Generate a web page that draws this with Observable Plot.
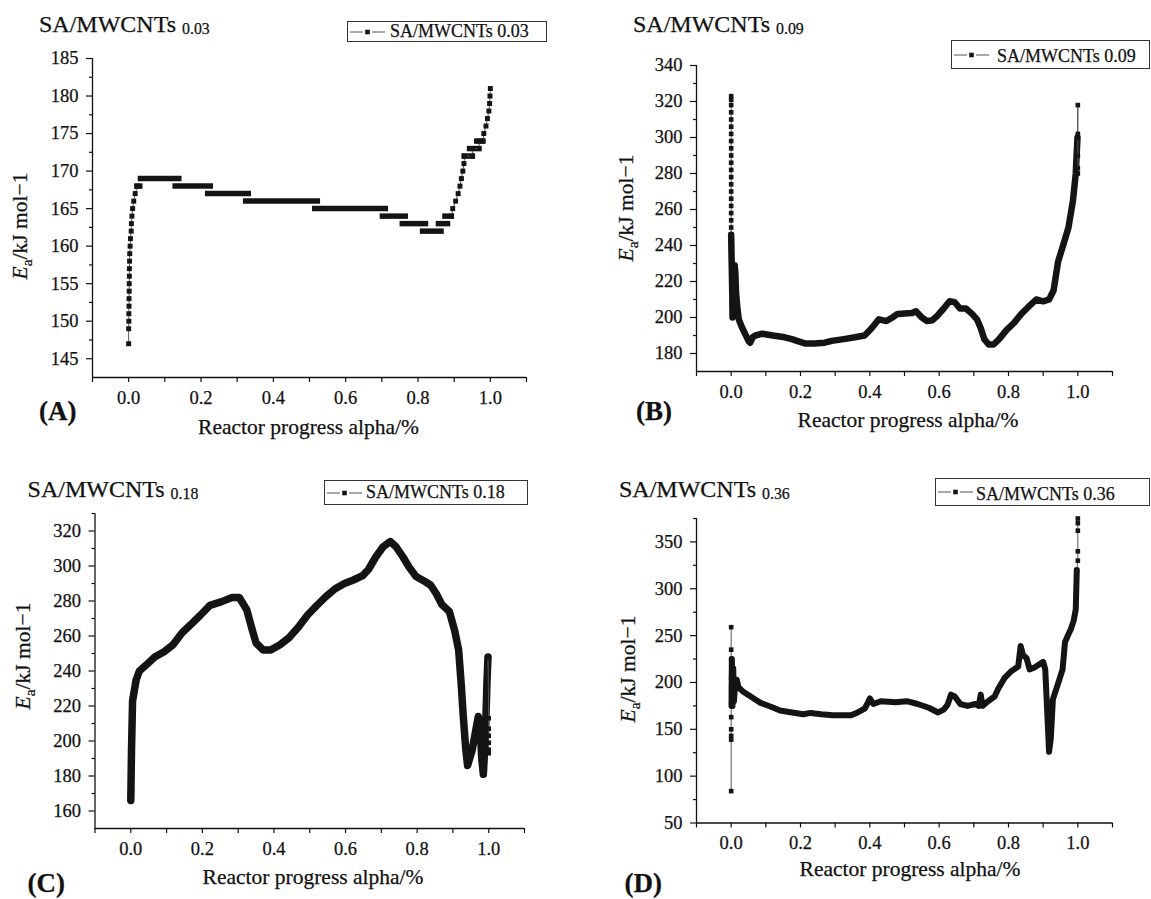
<!DOCTYPE html>
<html><head><meta charset="utf-8">
<script src="https://cdn.jsdelivr.net/npm/d3@7"></script>
<script src="https://cdn.jsdelivr.net/npm/@observablehq/plot@0.6"></script>
<style>
body{margin:0;background:#fff;}
#fig{position:relative;width:1151px;height:899px;overflow:hidden;color:#111;background:#fff;}
.abs{position:absolute;white-space:nowrap;line-height:1;-webkit-text-stroke:0.25px #111;}
.panel{position:absolute;}
.panel svg text{stroke:#111;stroke-width:0.25px;}
.legend{position:absolute;border:1px solid #333;background:#fff;box-sizing:border-box;}
</style></head><body><div id="fig"></div>
<script>
// ---------- shared tick values ----------
const xMajor = [0, 0.2, 0.4, 0.6, 0.8, 1.0];
const xMinor = [-0.1, 0.1, 0.3, 0.5, 0.7, 0.9, 1.1];

// ---------- Panel A : SA/MWCNTs 0.03 ----------
const aYMajor = [145, 150, 155, 160, 165, 170, 175, 180, 185];
const aYMinor = [147.5, 152.5, 157.5, 162.5, 167.5, 172.5, 177.5, 182.5];
const aRise = [[0,147],[0,149],[0.0005,150],[0.0005,151],[0.001,152],[0.001,153],[0.0015,154],[0.0015,155],[0.002,156],[0.002,157],[0.0025,158],[0.003,159],[0.004,160],[0.005,161],[0.007,162],[0.0075,163],[0.009,164],[0.011,165],[0.014,166],[0.018,167],[0.024,168]];
const aSteps = [[168,0.024,0.032],[169,0.034,0.14],[168,0.13,0.227],[167,0.22,0.332],[166,0.325,0.523],[165,0.516,0.711],[164,0.703,0.766],[163,0.758,0.822],[162,0.814,0.865],[163,0.858,0.883],[164,0.876,0.893],[172,0.929,0.951],[173,0.944,0.969],[174,0.964,0.98]];
const aTail = [[0.893,164],[0.896,165],[0.904,166],[0.911,167],[0.916,168],[0.92,169],[0.924,170],[0.927,171],[0.929,172],[0.951,172],[0.951,173],[0.969,173],[0.969,174],[0.98,174],[0.982,175],[0.988,176],[0.992,177],[0.996,178],[0.998,179],[0.999,180],[1.0,181]];

// ---------- Panel B : SA/MWCNTs 0.09 ----------
const bYMajor = [180, 200, 220, 240, 260, 280, 300, 320, 340];
const bYMinor = [190, 210, 230, 250, 270, 290, 310, 330];
const bStart = [[0,323],[0,321],[0,318],[0,314],[0,310],[0,306],[0,302],[0,298],[0,294],[0,290],[0,286],[0,282],[0,278],[0,274],[0,270],[0,266],[0,262],[0,258],[0,254],[0,250],[0,246]];
const bMain = [[0,246],[0.001,235],[0.003,215],[0.004,200],[0.006,213],[0.01,229],[0.012,225],[0.014,214],[0.018,205],[0.022,199],[0.03,195],[0.04,191],[0.05,187],[0.055,186],[0.062,189],[0.07,190],[0.09,191],[0.12,190],[0.155,189],[0.175,188],[0.19,187],[0.215,185.5],[0.24,185.5],[0.27,186],[0.29,187],[0.325,188],[0.357,189],[0.385,190],[0.405,194],[0.426,199],[0.448,198],[0.465,200],[0.48,202],[0.522,202.5],[0.533,203.5],[0.55,200],[0.565,198],[0.58,198.5],[0.595,201],[0.613,205],[0.63,209],[0.645,208.5],[0.66,205],[0.677,205],[0.695,202],[0.709,199],[0.72,194],[0.73,188],[0.743,185],[0.757,185],[0.773,188],[0.794,193],[0.816,197],[0.837,202],[0.858,206],[0.88,210],[0.9,209],[0.917,210],[0.93,215],[0.943,231],[0.959,241],[0.973,250],[0.986,265],[0.994,280],[0.999,300]];
const bEnd = [[0.999,300],[1.0,318],[1.0,302],[1.0,290],[1.0,283],[1.0,280]];

// ---------- Panel C : SA/MWCNTs 0.18 ----------
const cYMajor = [160, 180, 200, 220, 240, 260, 280, 300, 320];
const cYMinor = [170, 190, 210, 230, 250, 270, 290, 310, 330];
const cMain = [[0,166],[0.002,195],[0.005,223],[0.015,235],[0.024,240],[0.046,244],[0.067,248],[0.093,251],[0.118,255],[0.144,262],[0.17,267],[0.195,272],[0.221,277.5],[0.252,279.5],[0.283,282],[0.303,282],[0.324,275],[0.34,263],[0.35,256],[0.37,252],[0.391,252],[0.417,255],[0.442,259],[0.468,265],[0.494,272],[0.52,277.5],[0.545,282.5],[0.571,287],[0.597,290],[0.622,292],[0.648,294.5],[0.664,298],[0.684,305],[0.705,311],[0.725,314],[0.741,311],[0.761,305],[0.777,299.5],[0.797,294],[0.823,291],[0.838,289],[0.854,284],[0.869,278],[0.89,274],[0.905,263],[0.916,252],[0.923,233],[0.929,214],[0.936,195],[0.941,186],[0.954,195],[0.962,204],[0.971,214],[0.976,208],[0.981,189],[0.985,181],[0.991,204],[0.995,233],[0.998,248]];
const cEnd = [[0.998,248],[1.0,213],[1.0,207],[1.0,203],[1.0,199],[1.0,195],[1.0,193]];

// ---------- Panel D : SA/MWCNTs 0.36 ----------
const dYMajor = [50, 100, 150, 200, 250, 300, 350];
const dYMinor = [75, 125, 175, 225, 275, 325, 375];
const dStart = [[0,259],[0,235],[0,225],[0,205],[0,195],[0,163],[0,150],[0,143],[0,139],[0,84]];
const dMain = [[0.001,175],[0.002,225],[0.004,175],[0.006,215],[0.008,180],[0.012,200],[0.016,203],[0.021,195],[0.035,190],[0.054,185.5],[0.083,178.5],[0.122,173],[0.141,170],[0.176,168],[0.208,166],[0.229,167.5],[0.26,166],[0.293,165],[0.346,165],[0.365,168],[0.385,172],[0.394,178],[0.4,183],[0.41,177],[0.432,180],[0.474,179],[0.506,180],[0.538,177],[0.57,173],[0.597,168],[0.613,171],[0.624,176],[0.634,187],[0.645,185],[0.661,177],[0.682,175],[0.704,177],[0.714,175],[0.72,187],[0.725,175],[0.741,180],[0.76,185],[0.77,193],[0.789,205],[0.808,212],[0.828,217],[0.835,239],[0.842,229],[0.852,226],[0.861,214],[0.875,216],[0.9,222],[0.906,214],[0.917,126],[0.922,140],[0.928,182],[0.944,200],[0.956,214],[0.963,243],[0.97,249],[0.98,257],[0.988,266],[0.994,278],[0.997,320]];
const dEnd = [[0.997,320],[1.0,330],[1.0,340],[1.0,362],[1.0,370],[1.0,375]];

const titles = ["0.03", "0.09", "0.18", "0.36"];
const letters = ["(A)", "(B)", "(C)", "(D)"];
const xLabel = "Reactor progress alpha/%";

// ---------- pick an installed serif font and a size factor ----------
function pickFont() {
  const cands = ["Liberation Serif", "Tinos", "Times New Roman", "Nimbus Roman", "FreeSerif", "DejaVu Serif", "Noto Serif"];
  const c = document.createElement("canvas").getContext("2d");
  const s = "SA/MWCNTs Reactor progress alpha/% 0123456789";
  const w = f => { c.font = "50px " + f; return c.measureText(s).width; };
  const m = w("monospace"), sa = w("sans-serif");
  for (const f of cands) {
    const q = '"' + f + '"';
    if (w(q + ",monospace") !== m && w(q + ",sans-serif") !== sa) return f;
  }
  return null;
}
const chosen = pickFont();
const FONT = (chosen ? '"' + chosen + '",' : "") + '"Liberation Serif",serif';
let SF = 1;
{
  const c = document.createElement("canvas").getContext("2d");
  c.font = "100px " + FONT;
  const wRef = c.measureText(xLabel).width;  // Times-metric width = 1027.5
  SF = Math.max(0.8, Math.min(1.1, 1027.5 / wRef));
}
const fs = v => +(v * SF).toFixed(2);
document.getElementById("fig").style.fontFamily = FONT;

const INK = "#141414";
const fig = document.getElementById("fig");
const X = d => d[0], Y = d => d[1];

function thick(data, w) {
  return Plot.line(data, {x: X, y: Y, stroke: INK, strokeWidth: w, strokeLinejoin: "round", strokeLinecap: "round"});
}
function sparse(data, r = 2.6) {
  return [
    Plot.line(data, {x: X, y: Y, stroke: "#555", strokeWidth: 1}),
    Plot.dot(data, {x: X, y: Y, symbol: "square", r: r, fill: INK, stroke: "none"})
  ];
}

function panel(cfg) {
  const svg = Plot.plot({
    width: cfg.w, height: cfg.h,
    marginLeft: cfg.mL, marginRight: cfg.mR, marginTop: cfg.mT, marginBottom: cfg.mB,
    x: {domain: [-0.1, 1.1], axis: null},
    y: {domain: cfg.yDomain, axis: null},
    style: {fontFamily: FONT, fontSize: fs(18) + "px", color: "#111", background: "transparent", overflow: "visible"},
    marks: [
      Plot.axisY({ticks: cfg.yMinor, tickSize: 3, tickFormat: () => "", label: null, strokeWidth: 1.2}),
      Plot.axisY({ticks: cfg.yMajor, tickSize: 6, tickPadding: 8, fontSize: fs(18.5), label: null, strokeWidth: 1.2, tickFormat: d => String(d)}),
      Plot.axisX({ticks: xMinor, tickSize: 5, tickFormat: () => "", label: null, strokeWidth: 1.2}),
      Plot.axisX({ticks: xMajor, tickSize: 5, tickPadding: 8, fontSize: fs(18.5), label: null, strokeWidth: 1.2, tickFormat: d => d.toFixed(1)}),
      Plot.ruleX([-0.1], {strokeWidth: 1.3, stroke: "#111"}),
      Plot.ruleY([cfg.yDomain[0]], {strokeWidth: 1.3, stroke: "#111"}),
      ...cfg.marks
    ]
  });
  const div = document.createElement("div");
  div.className = "panel";
  div.style.left = cfg.left + "px"; div.style.top = cfg.top + "px";
  div.style.width = cfg.w + "px"; div.style.height = cfg.h + "px";
  div.appendChild(svg);
  fig.appendChild(div);
}

function text(html, x, base, size, extra = {}) {
  const d = document.createElement("div");
  d.className = "abs";
  d.innerHTML = html;
  const z = fs(size);
  d.style.fontSize = z + "px";
  d.style.left = x + "px";
  d.style.top = (base - 0.8375 * z) + "px";
  if (extra.bold) d.style.fontWeight = "bold";
  if (extra.center) d.style.transform = "translateX(-50%)";
  fig.appendChild(d);
}
function ylabel(cx, cy) {
  const d = document.createElement("div");
  d.className = "abs";
  d.innerHTML = '<i>E</i><span style="font-size:0.72em;position:relative;top:0.3em">a</span>/kJ mol\u22121';
  d.style.fontSize = fs(21.5) + "px";
  d.style.left = cx + "px"; d.style.top = cy + "px";
  d.style.transform = "translate(-50%,-50%) rotate(-90deg)";
  fig.appendChild(d);
}
function legend(x0, y0, x1, y1, txtX, base, label) {
  const box = document.createElement("div");
  box.className = "legend";
  box.style.left = x0 + "px"; box.style.top = y0 + "px";
  box.style.width = (x1 - x0) + "px"; box.style.height = (y1 - y0) + "px";
  fig.appendChild(box);
  const cy = (y0 + y1) / 2;
  const s = document.createElementNS("http://www.w3.org/2000/svg", "svg");
  s.setAttribute("width", 40); s.setAttribute("height", 10);
  s.style.position = "absolute"; s.style.left = (x0 + 3) + "px"; s.style.top = (cy - 5) + "px";
  s.innerHTML = '<line x1="0" y1="5" x2="13" y2="5" stroke="#555" stroke-width="1"/><line x1="22" y1="5" x2="35" y2="5" stroke="#555" stroke-width="1"/><rect x="15.2" y="2.7" width="4.6" height="4.6" fill="#141414"/>';
  fig.appendChild(s);
  text(label, txtX, base, 18);
}

// ----- draw panels -----
panel({left: 0, top: 0, w: 575, h: 450, mL: 92, mR: 49, mT: 58, mB: 73, yDomain: [142.5, 185], yMajor: aYMajor, yMinor: aYMinor,
  marks: [
    Plot.ruleY(aSteps, {y: d => d[0], x1: d => d[1], x2: d => d[2], stroke: INK, strokeWidth: 5.5, strokeLinecap: "square"}),
    ...sparse(aRise, 2.8), ...sparse(aTail, 2.8)
  ]});
panel({left: 575, top: 0, w: 576, h: 450, mL: 121, mR: 39, mT: 65, mB: 79, yDomain: [170, 340], yMajor: bYMajor, yMinor: bYMinor,
  marks: [...sparse(bStart), thick(bMain, 6.5), ...sparse(bEnd)]});
panel({left: 0, top: 450, w: 575, h: 449, mL: 94.5, mR: 51, mT: 63, mB: 71, yDomain: [150, 330], yMajor: cYMajor, yMinor: cYMinor,
  marks: [thick(cMain, 7.5), ...sparse(cEnd)]});
panel({left: 575, top: 450, w: 576, h: 449, mL: 121, mR: 39, mT: 68, mB: 76.5, yDomain: [50, 375], yMajor: dYMajor, yMinor: dYMinor,
  marks: [...sparse(dStart), thick(dMain, 6), ...sparse(dEnd)]});

// ----- titles -----
const sub = t => 'SA/MWCNTs <span style="font-size:0.66em;position:relative;top:0.14em">' + t + '</span>';
text(sub(titles[0]), 39, 32, 24);
text(sub(titles[1]), 633, 32, 24);
text(sub(titles[2]), 27.6, 497, 24);
text(sub(titles[3]), 619, 497, 24);

// ----- panel letters -----
text(letters[0], 39, 421, 27, {bold: true});
text(letters[1], 636, 421, 27, {bold: true});
text(letters[2], 27.6, 893, 27, {bold: true});
text(letters[3], 624.6, 893, 27, {bold: true});

// ----- x labels -----
text(xLabel, 308.5, 435, 21.5, {center: true});
text(xLabel, 908, 428, 21.5, {center: true});
text(xLabel, 313, 885, 21.5, {center: true});
text(xLabel, 910, 877, 21.5, {center: true});

// ----- y labels -----
ylabel(21, 226); ylabel(626.5, 208); ylabel(24, 656); ylabel(629, 669);

// ----- legends -----
legend(347, 21, 547, 42, 390, 36.7, "SA/MWCNTs " + titles[0]);
legend(951, 40, 1150, 69, 997, 61.7, "SA/MWCNTs " + titles[1]);
legend(323.5, 480, 527.6, 505, 366, 498.3, "SA/MWCNTs " + titles[2]);
legend(935, 478, 1150, 506, 976, 500, "SA/MWCNTs " + titles[3]);
</script></body></html>
